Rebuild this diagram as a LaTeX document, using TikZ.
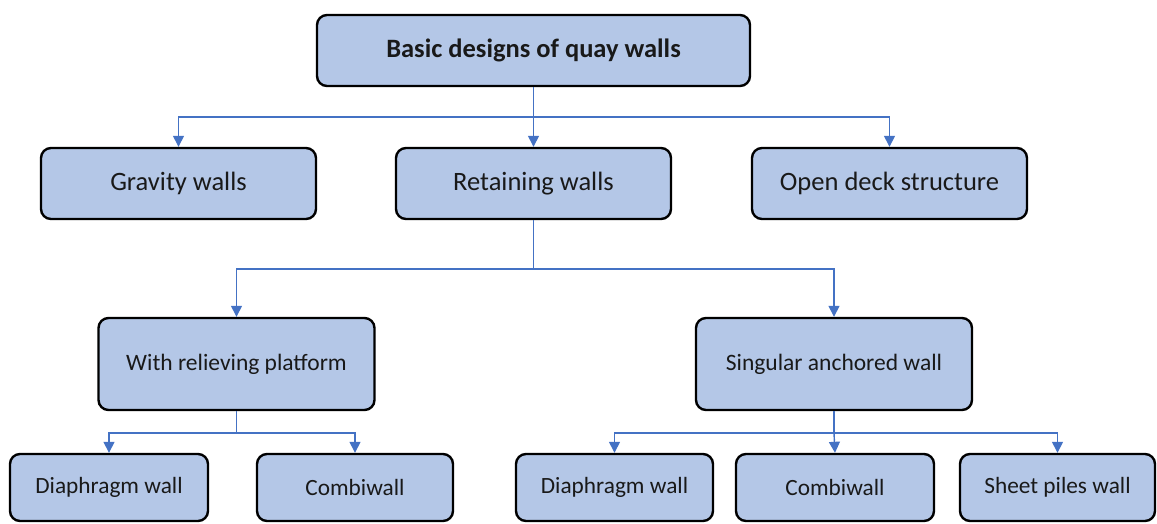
\documentclass[tikz,border=0pt]{standalone}
\usepackage{fontspec}
\setmainfont{Carlito}
\usetikzlibrary{arrows.meta}
\definecolor{boxfill}{HTML}{B4C7E7}
\definecolor{linkblue}{HTML}{4472C4}
\begin{document}
\begin{tikzpicture}[x=1pt,y=-1pt,
  box/.style={draw=black,line width=2.4pt,fill=boxfill,rounded corners=10pt,
    inner sep=0pt,align=center,text=black!90},
  lvl0/.style={box,minimum width=433pt,minimum height=71pt,font=\fontsize{26.5}{30}\selectfont\bfseries},
  lvl1/.style={box,minimum width=275pt,minimum height=71pt,font=\fontsize{26.5}{30}\selectfont},
  lvl2/.style={box,minimum width=276pt,minimum height=92pt,font=\fontsize{23.5}{28}\selectfont},
  lvl3/.style={box,minimum height=67pt,font=\fontsize{23.3}{28}\selectfont},
  conn/.style={draw=linkblue,line width=1.4pt,-{Triangle[width=11pt,length=11pt]}},
  plain/.style={draw=linkblue,line width=1.4pt}]
\useasboundingbox (0,0) rectangle (1157,523);
\begin{scope}
\clip (0,0) rectangle (1157,523);
\node[lvl0] (top) at (533.5,50.5) {Basic designs of quay walls};
\node[lvl1] (grav) at (178.5,183.5) {Gravity walls};
\node[lvl1] (ret) at (533.5,183.5) {Retaining walls};
\node[lvl1] (open) at (889.5,183.5) {Open deck structure};
\node[lvl2] (rel) at (236.5,364) {With relieving platform};
\node[lvl2] (sing) at (834,364) {Singular anchored wall};
\node[lvl3,minimum width=198pt] (dial) at (109,487.5) {Diaphragm wall};
\node[lvl3,minimum width=196pt] (coml) at (355,487.5) {Combiwall};
\node[lvl3,minimum width=197pt] (diar) at (614.5,487.5) {Diaphragm wall};
\node[lvl3,minimum width=198pt] (comr) at (835,487.5) {Combiwall};
\node[lvl3,minimum width=195pt] (sheet) at (1057.5,487.5) {Sheet piles wall};
\coordinate (j1) at (533.5,117);
\coordinate (j2) at (533.5,269);
\coordinate (j3) at (236.5,433);
\coordinate (j4) at (834,433);
\draw[plain] (top.south) -- (j1);
\draw[conn] (j1) -| (grav.north);
\draw[conn] (j1) -- (ret.north);
\draw[conn] (j1) -| (open.north);
\draw[plain] (ret.south) -- (j2);
\draw[conn] (j2) -| (rel.north);
\draw[conn] (j2) -| (sing.north);
\draw[plain] (rel.south) -- (j3);
\draw[conn] (j3) -| (dial.north);
\draw[conn] (j3) -| (coml.north);
\draw[plain] (sing.south) -- (j4);
\draw[conn] (j4) -| (diar.north);
\draw[conn] (j4) -- (comr.north);
\draw[conn] (j4) -| (sheet.north);
\end{scope}
\end{tikzpicture}
\end{document}
